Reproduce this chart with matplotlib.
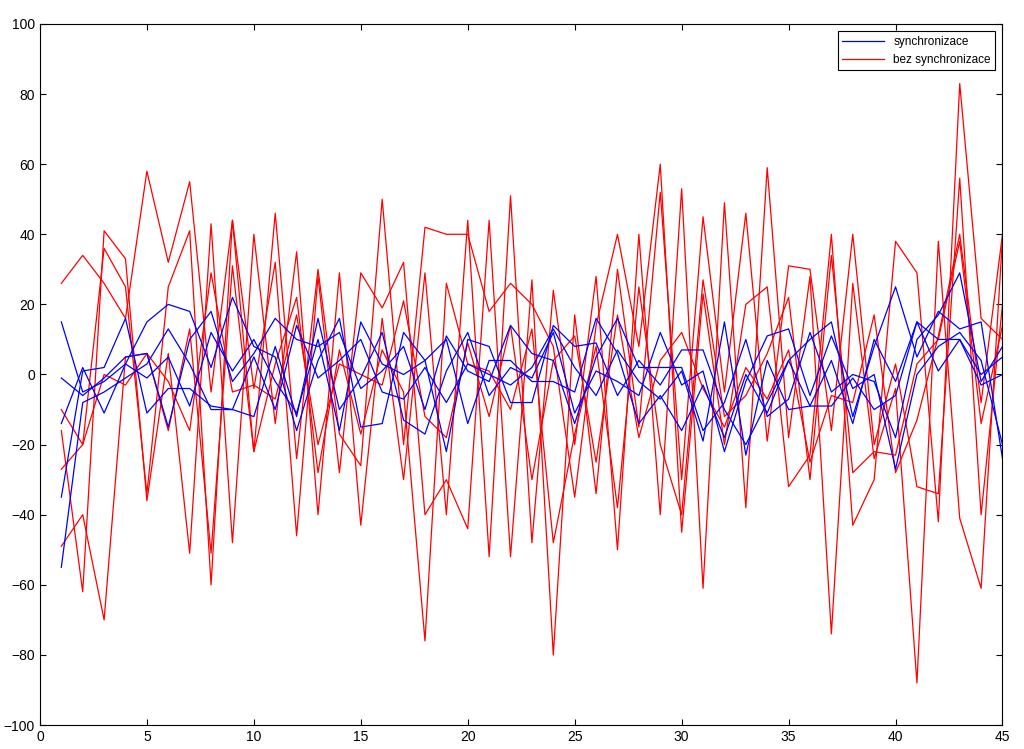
import numpy as np
import matplotlib
matplotlib.use("Agg")
import matplotlib.pyplot as plt

plt.rcParams["font.family"] = "Liberation Sans"

x = np.arange(1, 46)

# synchronizace (blue)
blue_1 = [15, -5, -2, 3, 15, 20, 18, 2, 22, 8, 5, -16, 4, 16, -15, -14, 12, 4, -22, 10, 8, -8, -8, 14, 8, 9, -6, 4, -3, 7, 7, -10, -20, -8, 4, 10, 15, -12, 8, 25, 5, 18, 13, 15, -24]
blue_2 = [-1, -6, -1, 5, 6, -15, 10, 18, -2, 6, 16, 10, 8, 12, -4, 1, 8, -10, 11, 1, -2, 14, 6, 4, -14, 5, 16, 2, 2, 2, -16, -8, 10, -12, -7, 12, -5, 0, -2, -18, 10, 17, 29, -2, 8]
blue_3 = [-14, 2, -11, 3, -1, 5, -9, 12, 1, 10, -2, -11, 10, -16, 15, 3, 0, 4, 10, -14, 4, 4, -2, -2, -5, 16, 6, -14, -6, -16, -3, -18, 0, -11, 4, -9, -9, -1, -10, -6, 15, 10, 10, 0, 5]
blue_4 = [-35, 1, 2, 16, -11, -4, -4, -9, -10, -12, 8, -12, 16, -10, -1, 12, -13, -17, 1, 12, -6, 2, -1, 12, -11, 1, -2, -6, 12, -3, 1, -22, -2, 11, 13, -6, 11, -4, 0, -27, 0, 8, 12, 4, -20]
blue_5 = [-55, -8, -5, -1, 3, 13, 3, -10, -10, 5, -10, 14, -1, 4, 10, -5, -7, 2, -8, 3, 0, -3, 2, 13, 2, -6, 7, -2, -7, 1, -19, 15, -23, 4, -10, -9, 4, -14, 10, -2, 15, 1, 10, -3, 0]

# bez synchronizace (red)
red_1 = [26, 34, 26, 16, 58, 32, 55, -5, 44, -22, 46, -24, 30, -17, -26, 50, -20, 42, 40, 40, 18, 26, 20, 8, -35, 14, 40, 8, 60, -45, 23, -20, 20, 25, -32, -23, 40, -43, -30, 38, 29, -42, 83, 16, 10]
red_2 = [-16, -62, 41, 33, -36, 6, -51, 43, -48, 40, -14, 35, -40, 29, -43, 16, -30, 29, -40, 44, -52, 51, -48, 24, -20, 28, -50, 40, -40, 53, -61, 49, -38, 59, -18, 28, -74, 26, -24, -4, -88, 38, -41, -61, 39]
red_3 = [-27, -20, 36, 25, -34, 25, 41, -60, 44, -4, 32, -46, 28, -28, 29, 19, 32, -40, -30, -44, 44, -52, 27, -80, 17, -34, 30, -15, 52, -30, 45, -5, 46, -19, 31, 30, -16, 40, -20, 3, -32, -34, 56, -40, 20]
red_4 = [-49, -40, -70, 5, 6, -16, 13, -51, 31, -22, 3, 22, -28, 7, -17, 7, -5, -76, 26, 3, 1, -10, 13, -48, -17, 8, -38, 25, -20, -40, 27, -12, -6, 6, 22, -30, 34, -28, -22, -23, 3, 10, 38, -14, 14]
red_5 = [-10, -20, 0, -3, 6, -2, -16, 29, -5, -3, -7, 17, -20, 3, 0, -3, 21, -12, -18, 9, -12, 14, -30, 4, 11, -25, 17, -18, 4, 12, -4, -15, 2, -7, 7, -25, -6, -8, 17, -28, -13, 11, 40, -8, 40]

blues = [blue_1, blue_2, blue_3, blue_4, blue_5]
reds = [red_1, red_2, red_3, red_4, red_5]

fig = plt.figure(figsize=(10.24, 7.49), dpi=100)
ax = fig.add_axes([0.039, 0.032, 0.940, 0.936])

for i, r in enumerate(reds):
    ax.plot(x, r, color="red", lw=0.9, label="bez synchronizace" if i == 0 else None)
for i, b in enumerate(blues):
    ax.plot(x, b, color="blue", lw=0.9, label="synchronizace" if i == 0 else None)

ax.set_xlim(0, 45)
ax.set_ylim(-100, 100)
ax.set_xticks(range(0, 46, 5))
ax.set_yticks(range(-100, 101, 20))
ax.tick_params(direction="in", labelsize=10, top=True, right=True, length=4)

h, l = ax.get_legend_handles_labels()
leg = ax.legend(h[::-1], l[::-1], loc="upper right", fontsize=8.5, fancybox=False,
                edgecolor="black", framealpha=1, borderaxespad=0.6, handlelength=3.5)
leg.get_frame().set_linewidth(0.8)

fig.savefig("out.png", dpi=100)
